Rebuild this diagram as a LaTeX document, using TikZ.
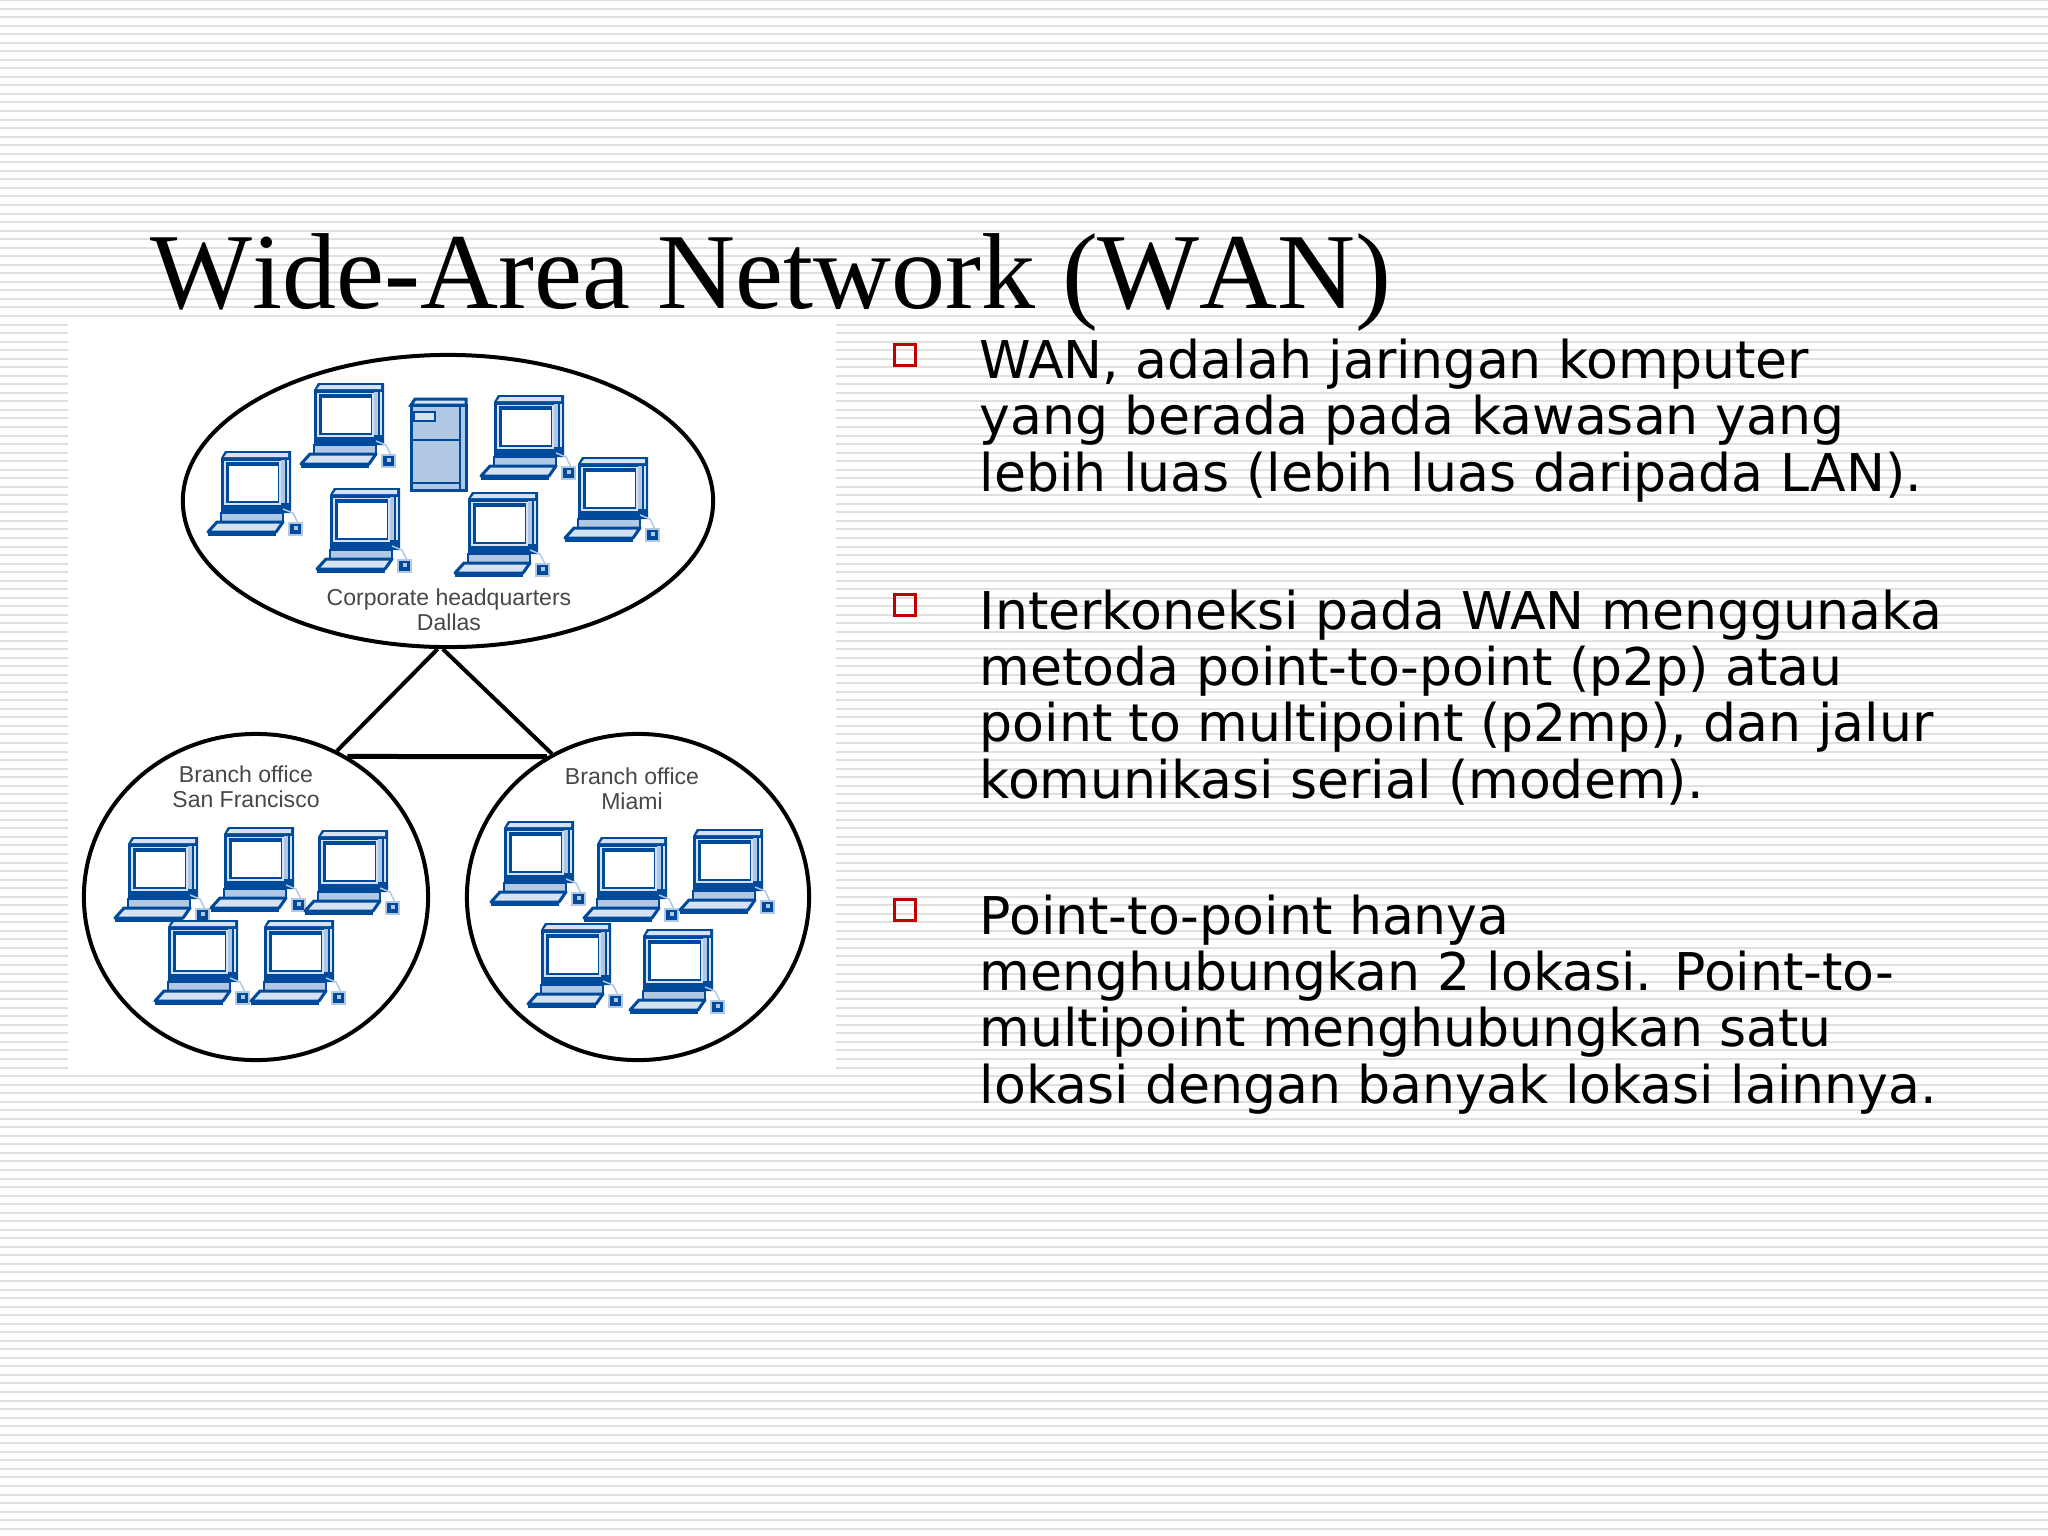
\documentclass[tikz,border=0pt]{standalone}
\usepackage{fontspec}
\usetikzlibrary{shapes.geometric}
\setmainfont{Liberation Serif}
\newfontfamily\titlefont[Kerning=Off]{Liberation Serif}
\newfontfamily\bodyfont{DejaVu Sans}
\newfontfamily\labelfont{Liberation Sans}
\definecolor{pcblue}{HTML}{004A9C}
\definecolor{pclight}{HTML}{D6E2F2}
\definecolor{pcmid}{HTML}{B0C8E4}
\definecolor{stripegray}{HTML}{E0E0E0}
\definecolor{bulletred}{HTML}{C00000}
\tikzset{
  px/.style={line width=#1*0.01cm},
  site/.style={draw=black,px=4,fill=white,ellipse,inner sep=0pt},
  link/.style={draw=black,px=4},
  sitelabel/.style={font=\fontsize{6.55pt}{7.2pt}\selectfont\labelfont,text=black!72,align=center,inner sep=0pt},
  bodytext/.style={font=\fontsize{14.8pt}{15.93pt}\selectfont\bodyfont,align=left,anchor=base west,inner sep=0pt},
  bulletbox/.style={draw=bulletred,px=3.5,minimum size=0.21cm,inner sep=0pt},
  pc/.pic={
    \fill[pcblue] (4,0) -- (70,0) -- (70,62) -- (0,62) -- (0,7) -- cycle;
    \fill[pclight] (6,2) -- (67,2) -- (67,6) -- (3,6) -- cycle;
    \fill[pcmid] (60,9) rectangle (64,52);
    \fill[pclight] (66,9) rectangle (68,52);
    \draw[pclight,px=1.5] (4,10.5) rectangle (59,53);
    \fill[white] (8,15) rectangle (57,50);
    \draw[pcblue,px=2,fill=pcmid] (0,62) rectangle (62,71);
    \draw[pcblue,px=3,fill=pclight,line join=round] (-4,71) -- (62,71) -- (55,81) -- (-13,81) -- cycle;
    \draw[pcblue,px=5] (-13,82) -- (55,82);
    \draw[pcmid,px=1.5] (62,58) -- (72,62) -- (77,72);
    \draw[pcmid,px=1.5,fill=pcblue] (68,72) rectangle (81,84);
    \fill[pcmid] (73,75) rectangle (77,79);
  }
}
\begin{document}
\begin{tikzpicture}[x=0.01cm,y=-0.01cm]
  \useasboundingbox (0,0) rectangle (2048,1536);
  % striped slide background
  \fill[white] (0,0) rectangle (2048,1536);
  \foreach \k in {0,...,180}
    \draw[stripegray,px=2] (0,{8.54*\k}) -- (2048,{8.54*\k});
  % picture panel
  \fill[white] (68,324) rectangle (836,1071);
  \node[anchor=base west,inner sep=0pt,font=\fontsize{30.7pt}{36pt}\selectfont\titlefont] (title) at (150,308) {Wide-Area Network (WAN)};
  % sites
  \node[site,minimum width=5.3cm,minimum height=2.92cm] (hq) at (448,501) {};
  \node[site,minimum width=3.44cm,minimum height=3.26cm] (sf) at (256,897) {};
  \node[site,minimum width=3.42cm,minimum height=3.26cm] (mia) at (638,897) {};
  % links
  \begin{scope}[-]
    \draw[link] (hq.266) -- (sf.61);
    \draw[link] (hq.268) -- (mia.121);
    \draw[link,px=5] (sf.57) -- (mia.123);
  \end{scope}
  % headquarters
  \pic at (221,451) {pc};
  \pic at (314,383) {pc};
  \pic at (330,488) {pc};
  \pic at (494,395) {pc};
  \pic at (468,492) {pc};
  \pic at (578,457) {pc};
  \draw[pcblue,px=3,fill=pcmid] (411,405) rectangle (466,490);
  \draw[pcblue,px=3,fill=pclight] (411,405) -- (415,399) -- (466,399) -- (466,405) -- cycle;
  \draw[pcblue,px=2] (411,440) -- (460,440) (411,483) -- (460,483) (460,405) -- (460,490);
  \draw[pcblue,px=2,fill=pclight] (414,412) rectangle (435,421);
  \node[sitelabel] (hqname) at (449,610) {Corporate headquarters\\Dallas};
  % San Francisco
  \pic at (128,837) {pc};
  \pic at (224,827) {pc};
  \pic at (318,830) {pc};
  \pic at (168,920) {pc};
  \pic at (264,920) {pc};
  \node[sitelabel] (sfname) at (246,787) {Branch office\\San Francisco};
  % Miami
  \pic at (504,821) {pc};
  \pic at (597,837) {pc};
  \pic at (693,829) {pc};
  \pic at (541,923) {pc};
  \pic at (643,929) {pc};
  \node[sitelabel] (mianame) at (632,789) {Branch office\\Miami};
  % text column
  \node[bulletbox] (bulleta) at (905,355) {};
  \node[bulletbox] (bulletb) at (905,605) {};
  \node[bulletbox] (bulletc) at (905,910) {};
  \node[bodytext] (parta) at (979,491) {WAN, adalah jaringan komputer\\yang berada pada kawasan yang\\lebih luas (lebih luas daripada LAN).};
  \node[bodytext] (partb) at (979,798) {Interkoneksi pada WAN menggunaka\\metoda point-to-point (p2p) atau\\point to multipoint (p2mp), dan jalur\\komunikasi serial (modem).};
  \node[bodytext] (partc) at (979,1103) {Point-to-point hanya\\menghubungkan 2 lokasi. Point-to-\\multipoint menghubungkan satu\\lokasi dengan banyak lokasi lainnya.};
\end{tikzpicture}
\end{document}
